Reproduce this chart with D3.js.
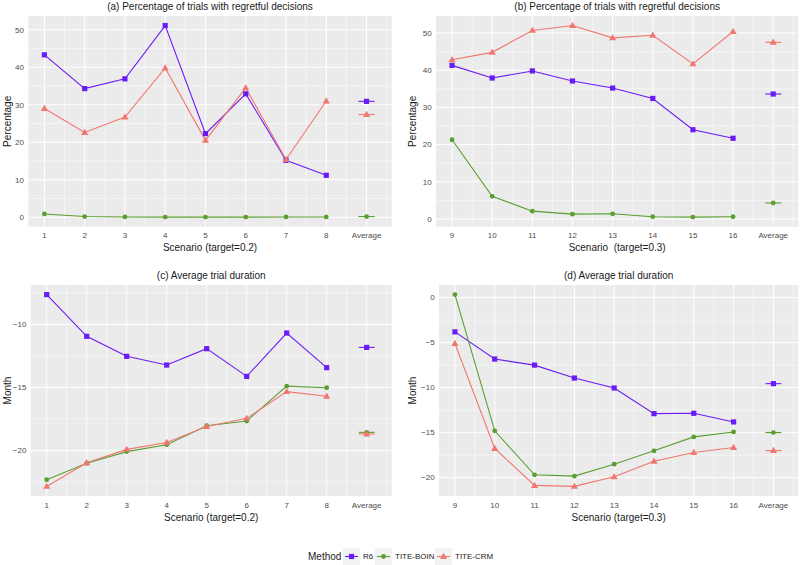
<!DOCTYPE html>
<html><head><meta charset="utf-8">
<script src="https://cdn.jsdelivr.net/npm/d3@7"></script>
<style>body{margin:0;background:#fff}svg{display:block}text{font-family:"Liberation Sans",Arial,Helvetica,sans-serif;white-space:pre}</style>
</head><body><svg id="c" width="800" height="565"></svg>
<script>
// ---- data ----
const methods = ["R6", "TITE-BOIN", "TITE-CRM"];
const colors = ["#6a1cf6", "#5a9e32", "#f0776f"];
const scenariosLow = ["1","2","3","4","5","6","7","8","Average"];
const scenariosHigh = ["9","10","11","12","13","14","15","16","Average"];

const regretLow_R6   = [43.3, 34.3, 36.9, 51.1, 22.3, 32.9, 15.2, 11.2];
const regretLow_BOIN = [0.9, 0.2, 0.1, 0.05, 0.05, 0.05, 0.1, 0.1];
const regretLow_CRM  = [29.0, 22.6, 26.7, 39.8, 20.5, 34.5, 15.4, 31.0];
const regretLow_avg  = [30.9, 0.2, 27.4];

const regretHigh_R6   = [41.3, 37.9, 39.8, 37.1, 35.2, 32.4, 24.0, 21.7];
const regretHigh_BOIN = [21.3, 6.1, 2.1, 1.3, 1.4, 0.6, 0.5, 0.6];
const regretHigh_CRM  = [42.8, 44.8, 50.7, 52.0, 48.7, 49.4, 41.7, 50.4];
const regretHigh_avg  = [33.6, 4.3, 47.5];

const durLow_R6   = [-7.64, -10.95, -12.54, -13.23, -11.93, -14.13, -10.69, -13.44];
const durLow_BOIN = [-22.33, -21.03, -20.10, -19.55, -18.04, -17.67, -14.90, -15.03];
const durLow_CRM  = [-22.86, -20.98, -19.92, -19.37, -18.10, -17.46, -15.34, -15.71];
const durLow_avg  = [-11.83, -18.57, -18.70];

const durHigh_R6   = [-3.81, -6.83, -7.50, -8.94, -10.04, -12.89, -12.85, -13.81];
const durHigh_BOIN = [0.33, -14.80, -19.68, -19.83, -18.50, -17.02, -15.47, -14.92];
const durHigh_CRM  = [-5.10, -16.76, -20.86, -20.97, -19.90, -18.17, -17.21, -16.65];
const durHigh_avg  = [-9.56, -14.99, -16.99];

const ticksPct = [0, 10, 20, 30, 40, 50];
const ticksDurLow = [-20, -15, -10];
const ticksDurHigh = [-20, -15, -10, -5, 0];

// ---- panels ----
const panels = [
  {title:"(a) Percentage of trials with regretful decisions", ylab:"Percentage", xlab:"Scenario (target=0.2)",
   cats:scenariosLow, series:[regretLow_R6, regretLow_BOIN, regretLow_CRM], avg:regretLow_avg, ticks:ticksPct, step:10,
   L:28.3, R:391.7, T:16, B:226.7, ylabX:7},
  {title:"(b) Percentage of trials with regretful decisions", ylab:"Percentage", xlab:"Scenario  (target=0.3)",
   cats:scenariosHigh, series:[regretHigh_R6, regretHigh_BOIN, regretHigh_CRM], avg:regretHigh_avg, ticks:ticksPct, step:10,
   L:436, R:798.3, T:16, B:226.7, ylabX:412},
  {title:"(c) Average trial duration", ylab:"Month", xlab:"Scenario (target=0.2)",
   cats:scenariosLow, series:[durLow_R6, durLow_BOIN, durLow_CRM], avg:durLow_avg, ticks:ticksDurLow, step:5,
   L:30.7, R:391.7, T:285, B:496, ylabX:7},
  {title:"(d) Average trial duration", ylab:"Month", xlab:"Scenario (target=0.3)",
   cats:scenariosHigh, series:[durHigh_R6, durHigh_BOIN, durHigh_CRM], avg:durHigh_avg, ticks:ticksDurHigh, step:5,
   L:439, R:798.3, T:285, B:496, ylabX:412}
];

const svg = d3.select("#c");

function marker(g, i, x, y, col) {
  if (i === 0) {
    g.append("rect").attr("x", x-2.6).attr("y", y-2.6).attr("width", 5.2).attr("height", 5.2).attr("fill", col);
  } else if (i === 1) {
    g.append("circle").attr("cx", x).attr("cy", y).attr("r", 2.4).attr("fill", col);
  } else {
    g.append("path").attr("d", d3.symbol(d3.symbolTriangle, 22)()).attr("transform", `translate(${x},${y+0.4})`).attr("fill", col);
  }
}

panels.forEach(p => {
  const g = svg.append("g");
  const n = p.cats.length;
  const x = d3.scaleLinear().domain([0.6, n + 0.625]).range([p.L, p.R]);
  const allv = p.series.flat().concat(p.avg);
  const lo = d3.min(allv), hi = d3.max(allv), pad = (hi - lo) * 0.05;
  const y = d3.scaleLinear().domain([lo - pad, hi + pad]).range([p.B, p.T]);

  g.append("rect").attr("x", p.L).attr("y", p.T).attr("width", p.R - p.L).attr("height", p.B - p.T).attr("fill", "#ebebeb");
  // minor grid
  const [y0, y1] = y.domain();
  const minorY = d3.range(Math.ceil((y0 - p.step/2)/p.step)*p.step + p.step/2, y1, p.step).filter(v => v > y0 && v < y1);
  g.selectAll(".mny").data(minorY).join("line").attr("x1", p.L).attr("x2", p.R)
    .attr("y1", d => y(d)).attr("y2", d => y(d)).attr("stroke", "#fff").attr("stroke-width", 0.5);
  const minorX = d3.range(1.5, n + 0.625, 1);
  g.selectAll(".mnx").data(minorX).join("line").attr("y1", p.T).attr("y2", p.B)
    .attr("x1", d => x(d)).attr("x2", d => x(d)).attr("stroke", "#fff").attr("stroke-width", 0.5);
  // major grid
  g.selectAll(".mjy").data(p.ticks).join("line").attr("x1", p.L).attr("x2", p.R)
    .attr("y1", d => y(d)).attr("y2", d => y(d)).attr("stroke", "#fff").attr("stroke-width", 1);
  g.selectAll(".mjx").data(d3.range(1, n + 1)).join("line").attr("y1", p.T).attr("y2", p.B)
    .attr("x1", d => x(d)).attr("x2", d => x(d)).attr("stroke", "#fff").attr("stroke-width", 1);

  // axes labels
  g.selectAll(".yt").data(p.ticks).join("text").attr("x", p.L - 4.3).attr("y", d => y(d)).attr("dy", "0.35em")
    .attr("text-anchor", "end").attr("font-size", 8).attr("fill", "#4d4d4d").text(d => d < 0 ? "\u2212" + Math.abs(d) : d);
  g.selectAll(".xt").data(p.cats).join("text").attr("x", (d, i) => x(i + 1)).attr("y", p.B + 8.7).attr("dy", "0.35em")
    .attr("text-anchor", "middle").attr("font-size", 8).attr("fill", "#4d4d4d").text(d => d);

  g.append("text").attr("x", (p.L + p.R)/2).attr("y", p.T - 10).attr("dy", "0.35em").attr("text-anchor", "middle")
    .attr("font-size", 10).attr("fill", "#1a1a1a").text(p.title);
  g.append("text").attr("x", (p.L + p.R)/2).attr("y", p.B + 21).attr("dy", "0.35em").attr("text-anchor", "middle")
    .attr("font-size", 10).attr("fill", "#1a1a1a").text(p.xlab);
  g.append("text").attr("transform", `translate(${p.ylabX},${(p.T + p.B)/2}) rotate(-90)`).attr("dy", "0.35em")
    .attr("text-anchor", "middle").attr("font-size", 10).attr("fill", "#1a1a1a").text(p.ylab);

  // series
  const line = d3.line().x((d, i) => x(i + 1)).y(d => y(d));
  p.series.forEach((s, k) => {
    g.append("path").attr("d", line(s)).attr("fill", "none").attr("stroke", colors[k]).attr("stroke-width", 1.1);
  });
  p.series.forEach((s, k) => {
    s.forEach((v, i) => marker(g, k, x(i + 1), y(v), colors[k]));
  });
  // averages
  p.avg.forEach((v, k) => {
    g.append("line").attr("x1", x(n - 0.2)).attr("x2", x(n + 0.2)).attr("y1", y(v)).attr("y2", y(v))
      .attr("stroke", colors[k]).attr("stroke-width", 1.1);
    marker(g, k, x(n), y(v), colors[k]);
  });
});

// legend
const lg = svg.append("g");
const ly = 556.5;
lg.append("text").attr("x", 308).attr("y", ly).attr("dy", "0.35em").attr("font-size", 10).attr("fill", "#1a1a1a").text("Method");
const keyX = [343, 375, 435];
const txtX = [363, 395, 455];
methods.forEach((m, k) => {
  lg.append("rect").attr("x", keyX[k]).attr("y", ly - 8.5).attr("width", 17).attr("height", 17).attr("fill", "#f2f2f2");
  lg.append("line").attr("x1", keyX[k] + 2).attr("x2", keyX[k] + 15).attr("y1", ly).attr("y2", ly)
    .attr("stroke", colors[k]).attr("stroke-width", 1.1);
  marker(lg, k, keyX[k] + 8.5, ly, colors[k]);
  lg.append("text").attr("x", txtX[k]).attr("y", ly).attr("dy", "0.35em").attr("font-size", 8).attr("fill", "#1a1a1a").text(m);
});
</script></body></html>
